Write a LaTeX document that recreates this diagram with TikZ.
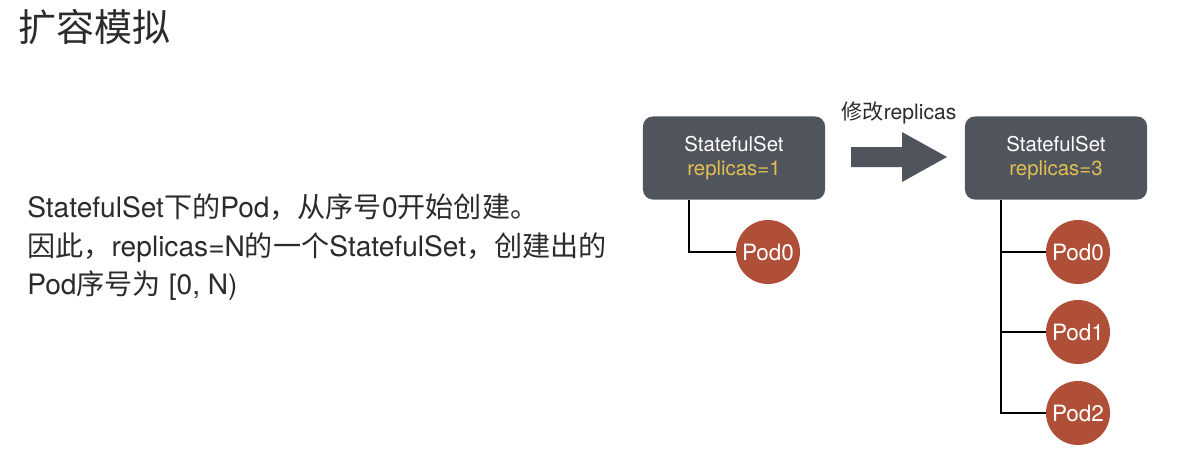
\documentclass[tikz,border=0pt]{standalone}
\usepackage{fontspec}
\setmainfont{TeX Gyre Heros}
\newfontfamily\cjkfont{Noto Sans CJK SC}
\newcommand{\ZH}[1]{{\cjkfont #1}}
\usetikzlibrary{positioning}
\definecolor{boxgray}{HTML}{50545D}
\definecolor{podred}{HTML}{B04F37}
\definecolor{repyellow}{HTML}{E2BF4E}
\definecolor{textgray}{HTML}{2B2B2B}

\begin{document}
\begin{tikzpicture}[x=0.025cm, y=-0.025cm,
          treeline/.style={line width=1.4pt, black}]
          % A box style
          \tikzstyle{setbox} = [fill=boxgray, rounded corners=7pt, minimum width=4.55cm, minimum height=2.075cm, text=white, align=center, font=\fontsize{14.5}{17}\selectfont]
          \tikzstyle{podnode} = [circle, fill=podred, minimum size=1.6cm, inner sep=0pt, text=white, font=\fontsize{16}{19}\selectfont]

          \useasboundingbox (0,0) rectangle (1196,470);

          % Title and text on the left
          \node (title) [anchor=west, text=textgray, font=\cjkfont\fontsize{27}{32}\selectfont] at (14,27) {扩容模拟};
          \node (desc)  [anchor=north west, align=left, inner sep=0pt, text=textgray, font=\fontsize{20}{27.7}\selectfont] at (27,193)
            {StatefulSet\ZH{下的}Pod\ZH{，从序号}0\ZH{开始创建。}\\
             \ZH{因此，}replicas=N\ZH{的一个}StatefulSet\ZH{，创建出的}\\
             Pod\ZH{序号为} [0, N)};

          % Left StatefulSet, before scaling
          \node (setA)  [setbox] at (734,158) {StatefulSet\\ \textcolor{repyellow}{replicas=1}};
          \node (podA0) [podnode] at (768,252) {Pod0};
          \coordinate (trunkA) at (689,200);
          \draw[treeline] (trunkA) |- (podA0);

          % Block arrow for the change
          \fill[boxgray] (851,147) -- (902,147) -- (902,132) -- (947,157) -- (902,182) -- (902,167) -- (851,167) -- cycle;
          \node (change) [text=textgray, font=\fontsize{15}{18}\selectfont] at (899,113) {\ZH{修改}replicas};

          % Right StatefulSet, after scaling
          \node (setB)  [setbox] at (1056,158) {StatefulSet\\ \textcolor{repyellow}{replicas=3}};
          \foreach \i/\y in {0/252,1/332,2/413}
            \node (podB\i) [podnode] at (1078,\y) {Pod\i};
          \coordinate (trunkB) at (1001,200);
          \draw[treeline] (trunkB) |- (podB2);
          \foreach \i in {0,1}
            \draw[treeline] (podB\i) -- (podB\i -| trunkB);

\end{tikzpicture}
\end{document}
